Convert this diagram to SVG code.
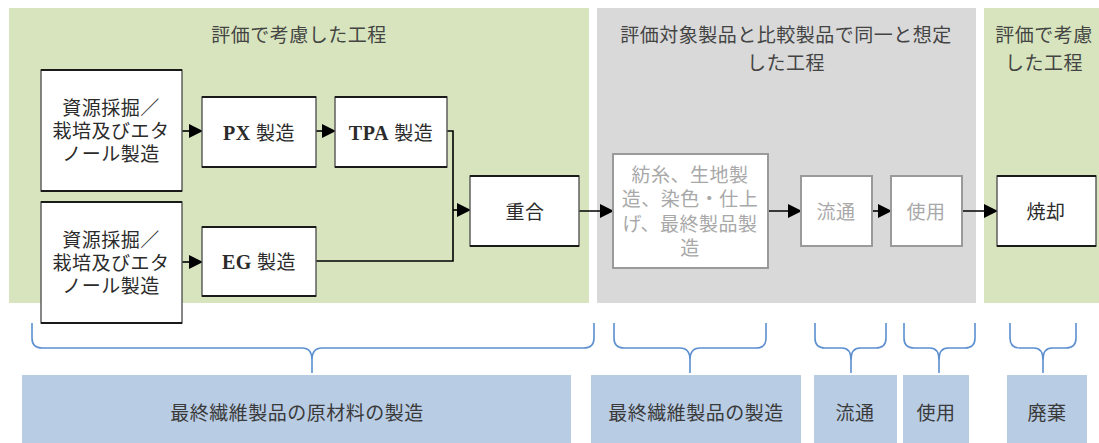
<svg xmlns="http://www.w3.org/2000/svg" width="1099" height="443" viewBox="0 0 1099 443">
<style>
text{font-family:"Liberation Serif","Noto Sans CJK JP",serif;font-size:19px;text-anchor:middle;dominant-baseline:central;fill:#2b2b2b;letter-spacing:0.5px}
.lat{font-weight:bold;font-size:20px}
.title{fill:#444}
.box{fill:#fff;stroke:#555;stroke-width:1.4}
.edge{stroke:#1a1a1a;stroke-width:2.2}
.gbox{fill:#fff;stroke:#9a9a9a;stroke-width:2}
.gtxt{fill:#a8a8a8}
.conn{fill:none;stroke:#000;stroke-width:1.6}
.brace{fill:none;stroke:#5b8fd0;stroke-width:1.6}
.blue{fill:#b8cce4}
.btxt{fill:#3a3a3a}
</style>
<defs>
<marker id="ah" markerWidth="14" markerHeight="14" refX="13" refY="7" orient="auto" markerUnits="userSpaceOnUse">
<path d="M0,0 L14,7 L0,14 Z" fill="#000"/>
</marker>
</defs>

<g id="panels">
<rect x="9" y="8" width="580" height="295" fill="#d7e4bd"/>
<rect x="597" y="8" width="379" height="295" fill="#d9d9d9"/>
<rect x="984" y="8" width="115" height="295" fill="#d7e4bd"/>
<text class="title" x="299" y="35">評価で考慮した工程</text>
<text class="title" x="786" y="35">評価対象製品と比較製品で同一と想定</text>
<text class="title" x="786" y="63">した工程</text>
<text class="title" x="1044" y="35">評価で考慮</text>
<text class="title" x="1044" y="63">した工程</text>
</g>

<g id="connectors">
<line class="conn" x1="182" y1="131" x2="202" y2="131" marker-end="url(#ah)"/>
<line class="conn" x1="316" y1="131" x2="335" y2="131" marker-end="url(#ah)"/>
<path class="conn" d="M447,131 H453 V261 H316"/>
<line class="conn" x1="453" y1="210" x2="470" y2="210" marker-end="url(#ah)"/>
<line class="conn" x1="182" y1="262" x2="202" y2="262" marker-end="url(#ah)"/>
<line class="conn" x1="579" y1="211" x2="613" y2="211" marker-end="url(#ah)"/>
<line class="conn" x1="768" y1="211" x2="801" y2="211" marker-end="url(#ah)"/>
<line class="conn" x1="872" y1="211" x2="891" y2="211" marker-end="url(#ah)"/>
<line class="conn" x1="962" y1="211" x2="997" y2="211" marker-end="url(#ah)"/>
</g>

<g id="n-resource1">
<rect class="box" x="41" y="70" width="141" height="121"/>
<path class="edge" d="M41,70 H182 M41,191 H182"/>
<text x="111" y="108">資源採掘／</text>
<text x="111" y="131">栽培及びエタ</text>
<text x="111" y="154">ノール製造</text>
</g>
<g id="n-resource2">
<rect class="box" x="41" y="202" width="141" height="121"/>
<path class="edge" d="M41,202 H182 M41,323 H182"/>
<text x="111" y="240">資源採掘／</text>
<text x="111" y="263">栽培及びエタ</text>
<text x="111" y="286">ノール製造</text>
</g>
<g id="n-px">
<rect class="box" x="202" y="97" width="114" height="70"/>
<path class="edge" d="M202,97 H316 M202,167 H316"/>
<text x="259" y="133"><tspan class="lat">PX</tspan> 製造</text>
</g>
<g id="n-tpa">
<rect class="box" x="335" y="97" width="112" height="70"/>
<path class="edge" d="M335,97 H447 M335,167 H447"/>
<text x="391" y="133"><tspan class="lat">TPA</tspan> 製造</text>
</g>
<g id="n-eg">
<rect class="box" x="202" y="227" width="114" height="69"/>
<path class="edge" d="M202,227 H316 M202,296 H316"/>
<text x="259" y="262"><tspan class="lat">EG</tspan> 製造</text>
</g>
<g id="n-polymer">
<rect class="box" x="470" y="176" width="109" height="70"/>
<path class="edge" d="M470,176 H579 M470,246 H579"/>
<text x="525" y="212">重合</text>
</g>
<g id="n-spin">
<rect class="gbox" x="613" y="154" width="155" height="114"/>
<text class="gtxt" x="690" y="175">紡糸、生地製</text>
<text class="gtxt" x="690" y="199">造、染色・仕上</text>
<text class="gtxt" x="690" y="224">げ、最終製品製</text>
<text class="gtxt" x="690" y="248">造</text>
</g>
<g id="n-dist">
<rect class="gbox" x="801" y="176" width="71" height="70"/>
<text class="gtxt" x="836" y="212">流通</text>
</g>
<g id="n-use">
<rect class="gbox" x="891" y="176" width="71" height="70"/>
<text class="gtxt" x="926" y="212">使用</text>
</g>
<g id="n-incin">
<rect class="box" x="997" y="176" width="99" height="70"/>
<path class="edge" d="M997,176 H1096 M997,246 H1096"/>
<text x="1046" y="212">焼却</text>
</g>

<g id="braces">
<path class="brace" d="M32,323 V338 Q32,348 42,348 H302 Q312,348 312,360 V373 M312,360 Q312,348 322,348 H584 Q594,348 594,338 V323"/>
<path class="brace" d="M614,323 V338 Q614,348 624,348 H680 Q690,348 690,360 V373 M690,360 Q690,348 700,348 H756 Q766,348 766,338 V323"/>
<path class="brace" d="M815,323 V338 Q815,348 825,348 H842 Q851,348 851,360 V373 M851,360 Q851,348 860,348 H876 Q886,348 886,338 V323"/>
<path class="brace" d="M904,323 V338 Q904,348 914,348 H930 Q939,348 939,360 V373 M939,360 Q939,348 948,348 H965 Q975,348 975,338 V323"/>
<path class="brace" d="M1010,323 V338 Q1010,348 1020,348 H1034 Q1043,348 1043,360 V373 M1043,360 Q1043,348 1052,348 H1066 Q1076,348 1076,338 V323"/>
</g>

<g id="stage-raw">
<rect class="blue" x="22" y="375" width="549" height="68"/>
<text class="btxt" x="297" y="413">最終繊維製品の原材料の製造</text>
</g>
<g id="stage-product">
<rect class="blue" x="591" y="375" width="210" height="68"/>
<text class="btxt" x="696" y="413">最終繊維製品の製造</text>
</g>
<g id="stage-dist">
<rect class="blue" x="814" y="375" width="83" height="68"/>
<text class="btxt" x="855" y="413">流通</text>
</g>
<g id="stage-use">
<rect class="blue" x="903" y="375" width="66" height="68"/>
<text class="btxt" x="936" y="413">使用</text>
</g>
<g id="stage-disposal">
<rect class="blue" x="1007" y="375" width="80" height="68"/>
<text class="btxt" x="1047" y="413">廃棄</text>
</g>
</svg>
